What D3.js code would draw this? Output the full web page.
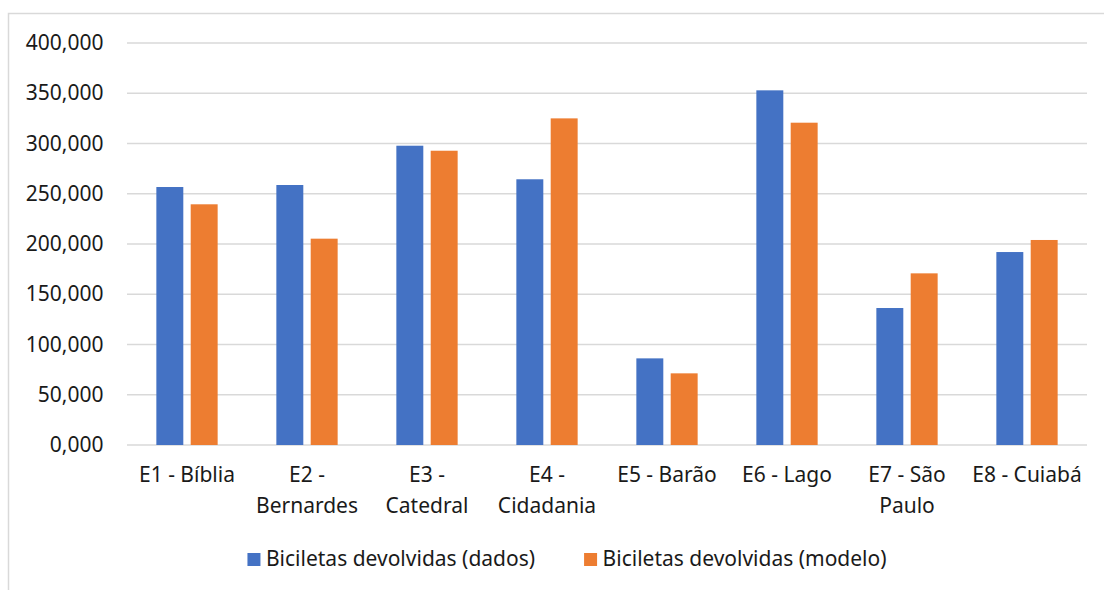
<!DOCTYPE html>
<html>
<head>
<meta charset="utf-8">
<script src="https://cdn.jsdelivr.net/npm/d3@7"></script>
<style>
  html, body { margin: 0; padding: 0; background: #fff; }
  svg { display: block; font-family: "Noto Sans", "Open Sans", sans-serif; }
</style>
</head>
<body>
<svg id="chart" width="1104" height="590"></svg>
<script>
// Stations and returned-bicycle counts (observed vs. model)
const categories = ["E1 - Bíblia", "E2 - Bernardes", "E3 - Catedral", "E4 - Cidadania",
                    "E5 - Barão", "E6 - Lago", "E7 - São Paulo", "E8 - Cuiabá"];
const seriesNames = ["Biciletas devolvidas (dados)", "Biciletas devolvidas (modelo)"];
const dados  = [256700, 258700, 297800, 264400, 86200, 352900, 136300, 192000];
const modelo = [239500, 205300, 292800, 325000, 71300, 320700, 170800, 204000];
const yTicks = [0, 50000, 100000, 150000, 200000, 250000, 300000, 350000, 400000];
const colors = ["#4472C4", "#ED7D31"];

const svg = d3.select("#chart");
const plot = { left: 127, right: 1087, top: 43, bottom: 445 };

// Chart area frame
svg.append("rect")
  .attr("x", 8.5).attr("y", 13.5)
  .attr("width", 1130).attr("height", 600)
  .attr("fill", "none").attr("stroke", "#d9d9d9").attr("stroke-width", 1.5);

const y = d3.scaleLinear().domain([0, 400000]).range([plot.bottom, plot.top]);
const x0 = d3.scaleBand().domain(categories).range([plot.left, plot.right]).padding(0);
const groupW = 61.3;
const x1 = d3.scaleBand().domain(seriesNames).range([0, groupW]).paddingInner(0.215).paddingOuter(0);

// Gridlines
svg.append("g")
  .selectAll("line").data(yTicks).join("line")
  .attr("x1", plot.left).attr("x2", plot.right)
  .attr("y1", d => y(d)).attr("y2", d => y(d))
  .attr("stroke", "#d9d9d9").attr("stroke-width", 1.6);

// Y axis labels
const fmt = d => d3.format(",")(d / 1000) + ",000";
const yAxis = d3.axisLeft(y).tickValues(yTicks).tickSize(0).tickPadding(0)
  .tickFormat(d => d === 0 ? "0,000" : fmt(d));
const ya = svg.append("g").attr("transform", "translate(103.5,0)").call(yAxis);
ya.select(".domain").remove();
ya.selectAll("text").attr("font-size", 21).attr("fill", "#1a1a1a")
  .attr("font-family", "'Noto Sans', sans-serif");

// Bars
const rows = categories.map((c, i) => ({ cat: c, vals: [dados[i], modelo[i]] }));
const groups = svg.append("g").selectAll("g").data(rows).join("g")
  .attr("transform", d => `translate(${x0(d.cat) + (x0.bandwidth() - groupW) / 2},0)`);
groups.selectAll("rect")
  .data(d => d.vals.map((v, j) => ({ name: seriesNames[j], v, j })))
  .join("rect")
  .attr("x", d => x1(d.name))
  .attr("width", x1.bandwidth())
  .attr("y", d => y(d.v))
  .attr("height", d => y(0) - y(d.v))
  .attr("fill", d => colors[d.j]);

// Category labels, wrapped to the band width
const xl = svg.append("g");
categories.forEach(c => {
  const cx = x0(c) + x0.bandwidth() / 2;
  const t = xl.append("text")
    .attr("x", cx).attr("y", 482)
    .attr("text-anchor", "middle")
    .attr("font-size", 21).attr("fill", "#1a1a1a");
  const words = c.split(" ");
  let line = [];
  let lineNo = 0;
  let tspan = t.append("tspan").attr("x", cx).attr("dy", 0);
  words.forEach(w => {
    line.push(w);
    tspan.text(line.join(" "));
    if (tspan.node().getComputedTextLength() > 114 && line.length > 1) {
      line.pop();
      tspan.text(line.join(" "));
      line = [w];
      lineNo++;
      tspan = t.append("tspan").attr("x", cx).attr("dy", 30.5).text(w);
    }
  });
});

// Legend
const leg = svg.append("g");
const sw = 13, gapText = 5.5, gapItem = 49;
const items = seriesNames.map((n, i) => {
  const g = leg.append("g");
  g.append("rect").attr("width", sw).attr("height", sw).attr("y", -12.5).attr("fill", colors[i]);
  const tx = g.append("text").attr("x", sw + gapText).attr("y", 0)
    .attr("font-size", 21).attr("fill", "#1a1a1a").text(n);
  return { g, w: sw + gapText + tx.node().getComputedTextLength() };
});
const totalW = d3.sum(items, d => d.w) + gapItem * (items.length - 1);
let lx = 567 - totalW / 2;
items.forEach(it => {
  it.g.attr("transform", `translate(${lx},565.5)`);
  lx += it.w + gapItem;
});
</script>
</body>
</html>
